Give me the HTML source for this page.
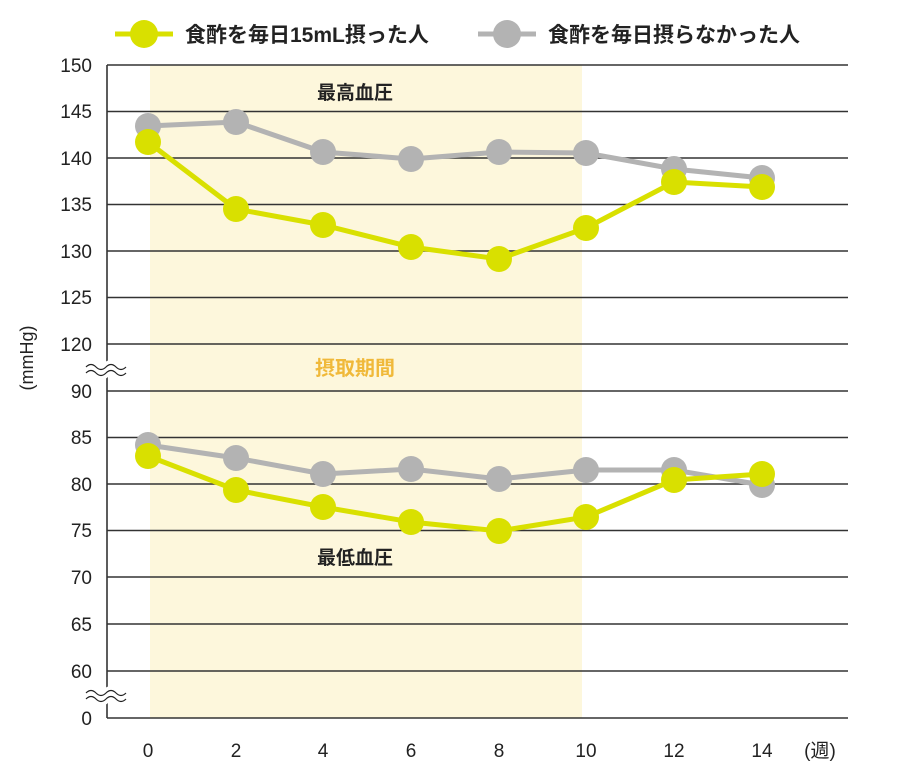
<!DOCTYPE html>
<html><head><meta charset="utf-8"><style>
html,body{margin:0;padding:0;background:#fff;}
svg{display:block;font-family:"Liberation Sans","Noto Sans CJK JP",sans-serif;}
</style></head><body>
<svg width="900" height="779" viewBox="0 0 900 779" xmlns="http://www.w3.org/2000/svg">
<rect x="150" y="65" width="432" height="653" fill="#fdf7dc"/>
<g stroke="#333" stroke-width="1.6">
<line x1="107" y1="65" x2="848" y2="65"/>
<line x1="107" y1="111.5" x2="848" y2="111.5"/>
<line x1="107" y1="158" x2="848" y2="158"/>
<line x1="107" y1="204.5" x2="848" y2="204.5"/>
<line x1="107" y1="251" x2="848" y2="251"/>
<line x1="107" y1="297.5" x2="848" y2="297.5"/>
<line x1="107" y1="344" x2="848" y2="344"/>
<line x1="107" y1="391" x2="848" y2="391"/>
<line x1="107" y1="437.5" x2="848" y2="437.5"/>
<line x1="107" y1="484" x2="848" y2="484"/>
<line x1="107" y1="530.5" x2="848" y2="530.5"/>
<line x1="107" y1="577" x2="848" y2="577"/>
<line x1="107" y1="624" x2="848" y2="624"/>
<line x1="107" y1="671" x2="848" y2="671"/>
<line x1="107" y1="718" x2="848" y2="718"/>
<line x1="107" y1="65" x2="107" y2="718"/>
</g>
<g fill="none" stroke="#fff" stroke-width="7">
<path d="M86 366 q5 -5 10 0 t10 0 t10 0 t10 0 M86 374 q5 -5 10 0 t10 0 t10 0 t10 0"/>
<path d="M86 692 q5 -5 10 0 t10 0 t10 0 t10 0 M86 700 q5 -5 10 0 t10 0 t10 0 t10 0"/>
</g>
<g fill="none" stroke="#222" stroke-width="1.2">
<path d="M86 367 q5 -5 10 0 t10 0 t10 0 t10 0 M86 373 q5 -5 10 0 t10 0 t10 0 t10 0"/>
<path d="M86 693 q5 -5 10 0 t10 0 t10 0 t10 0 M86 699 q5 -5 10 0 t10 0 t10 0 t10 0"/>
</g>
<g font-size="19" fill="#222" text-anchor="end">
<text x="92" y="72">150</text><text x="92" y="118">145</text><text x="92" y="165">140</text>
<text x="92" y="211">135</text><text x="92" y="258">130</text><text x="92" y="304">125</text>
<text x="92" y="351">120</text><text x="92" y="398">90</text><text x="92" y="444">85</text>
<text x="92" y="491">80</text><text x="92" y="537">75</text><text x="92" y="584">70</text>
<text x="92" y="631">65</text><text x="92" y="678">60</text><text x="92" y="725">0</text>
</g>
<g font-size="19" fill="#222" text-anchor="middle">
<text x="148" y="757">0</text><text x="236" y="757">2</text><text x="323" y="757">4</text>
<text x="411" y="757">6</text><text x="499" y="757">8</text><text x="586" y="757">10</text>
<text x="674" y="757">12</text><text x="762" y="757">14</text>
<text x="820" y="757">(週)</text>
</g>
<text transform="translate(33,358) rotate(-90)" font-size="18" fill="#222" text-anchor="middle">(mmHg)</text>
<text x="355" y="99" font-size="19" font-weight="bold" fill="#222" text-anchor="middle">最高血圧</text>
<text x="355" y="564" font-size="19" font-weight="bold" fill="#222" text-anchor="middle">最低血圧</text>
<text x="355" y="375" font-size="20" font-weight="bold" fill="#f0b93a" text-anchor="middle">摂取期間</text>
<g stroke="#b3b3b3" stroke-width="5" fill="none">
<polyline points="148,126 236,122 323,152 411,159 499,152 586,153 674,169 762,178"/>
<polyline points="148,445 236,458 323,474 411,469 499,479 586,470 674,470 762,485"/>
</g>
<g fill="#b3b3b3">
<circle cx="148" cy="126" r="13"/><circle cx="236" cy="122" r="13"/><circle cx="323" cy="152" r="13"/><circle cx="411" cy="159" r="13"/><circle cx="499" cy="152" r="13"/><circle cx="586" cy="153" r="13"/><circle cx="674" cy="169" r="13"/><circle cx="762" cy="178" r="13"/>
<circle cx="148" cy="445" r="13"/><circle cx="236" cy="458" r="13"/><circle cx="323" cy="474" r="13"/><circle cx="411" cy="469" r="13"/><circle cx="499" cy="479" r="13"/><circle cx="586" cy="470" r="13"/><circle cx="674" cy="470" r="13"/><circle cx="762" cy="485" r="13"/>
</g>
<g stroke="#d9e000" stroke-width="5" fill="none">
<polyline points="148,142 236,209 323,225 411,247 499,259 586,228 674,182 762,187"/>
<polyline points="148,456 236,490 323,507 411,522 499,531 586,517 674,480 762,474"/>
</g>
<g fill="#d9e000">
<circle cx="148" cy="142" r="13"/><circle cx="236" cy="209" r="13"/><circle cx="323" cy="225" r="13"/><circle cx="411" cy="247" r="13"/><circle cx="499" cy="259" r="13"/><circle cx="586" cy="228" r="13"/><circle cx="674" cy="182" r="13"/><circle cx="762" cy="187" r="13"/>
<circle cx="148" cy="456" r="13"/><circle cx="236" cy="490" r="13"/><circle cx="323" cy="507" r="13"/><circle cx="411" cy="522" r="13"/><circle cx="499" cy="531" r="13"/><circle cx="586" cy="517" r="13"/><circle cx="674" cy="480" r="13"/><circle cx="762" cy="474" r="13"/>
</g>
<line x1="115" y1="34" x2="173" y2="34" stroke="#d9e000" stroke-width="5"/>
<circle cx="144" cy="34" r="14" fill="#d9e000"/>
<text x="185" y="42" font-size="21" font-weight="bold" fill="#222">食酢を毎日15mL摂った人</text>
<line x1="478" y1="34" x2="536" y2="34" stroke="#b3b3b3" stroke-width="5"/>
<circle cx="507" cy="34" r="14" fill="#b3b3b3"/>
<text x="548" y="42" font-size="21" font-weight="bold" fill="#222">食酢を毎日摂らなかった人</text>
</svg>
</body></html>
